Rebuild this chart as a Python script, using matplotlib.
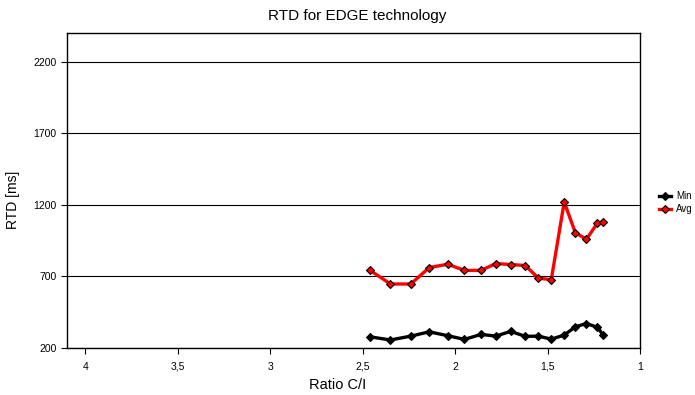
import matplotlib
matplotlib.use("Agg")
import matplotlib.pyplot as plt

plt.rcParams['font.family'] = ['Liberation Sans', 'DejaVu Sans']

# C/I ratio (shared by both series)
ratio = [2.46, 2.35, 2.24, 2.14, 2.04, 1.95, 1.86, 1.78, 1.70, 1.62,
         1.55, 1.48, 1.41, 1.35, 1.29, 1.23, 1.20]
rtd_min = [278, 256, 283, 313, 286, 260, 295, 283, 316, 281,
           283, 262, 290, 348, 371, 344, 292]
rtd_avg = [742, 647, 647, 762, 785, 742, 742, 790, 783, 776,
           688, 677, 1219, 1006, 959, 1073, 1077]

yticks = [200, 700, 1200, 1700, 2200]
xticks = [4, 3.5, 3, 2.5, 2, 1.5, 1]
xlabels = ['4', '3,5', '3', '2,5', '2', '1,5', '1']

W, H = 695, 395
fig = plt.figure(figsize=(6.95, 3.95), dpi=100)
ax = fig.add_axes([67/W, 1-348/H, (640-67)/W, (348-33)/H])

ax.plot(ratio, rtd_min, color='black', lw=2.4, marker='D', ms=4.5,
        mfc='black', mec='black', mew=0.8, label='Min')
ax.plot(ratio, rtd_avg, color='red', lw=2.4, marker='D', ms=4.5,
        mfc='red', mec='black', mew=0.8, label='Avg')

ax.set_xlim(4.1, 1)
ax.set_ylim(200, 2400)
ax.set_yticks(yticks)
ax.set_xticks(xticks)
ax.set_xticklabels(xlabels)
ax.tick_params(axis='both', labelsize=7.5, direction='out', length=4, width=0.8)
ax.tick_params(axis='x', pad=6)
ax.yaxis.grid(True, color='black', lw=0.8)
ax.set_axisbelow(True)
for s in ax.spines.values():
    s.set_linewidth(1.0)

# titles placed where the reference has them
fig.text(357/W, 1-16/H, 'RTD for EDGE technology', fontsize=11,
         ha='center', va='center')
fig.text(338/W, 1-385/H, 'Ratio C/I', fontsize=10.5, ha='center', va='center')
fig.text(13/W, 1-200/H, 'RTD [ms]', fontsize=10, rotation=90,
         ha='center', va='center')

fig.legend(loc='upper left', bbox_to_anchor=(659/W, 1-191/H), frameon=False,
           fontsize=7, handlelength=1.25, handletextpad=0.5, labelspacing=0.35,
           borderpad=0, borderaxespad=0, markerscale=0.8)

fig.savefig('out.png', dpi=100)
